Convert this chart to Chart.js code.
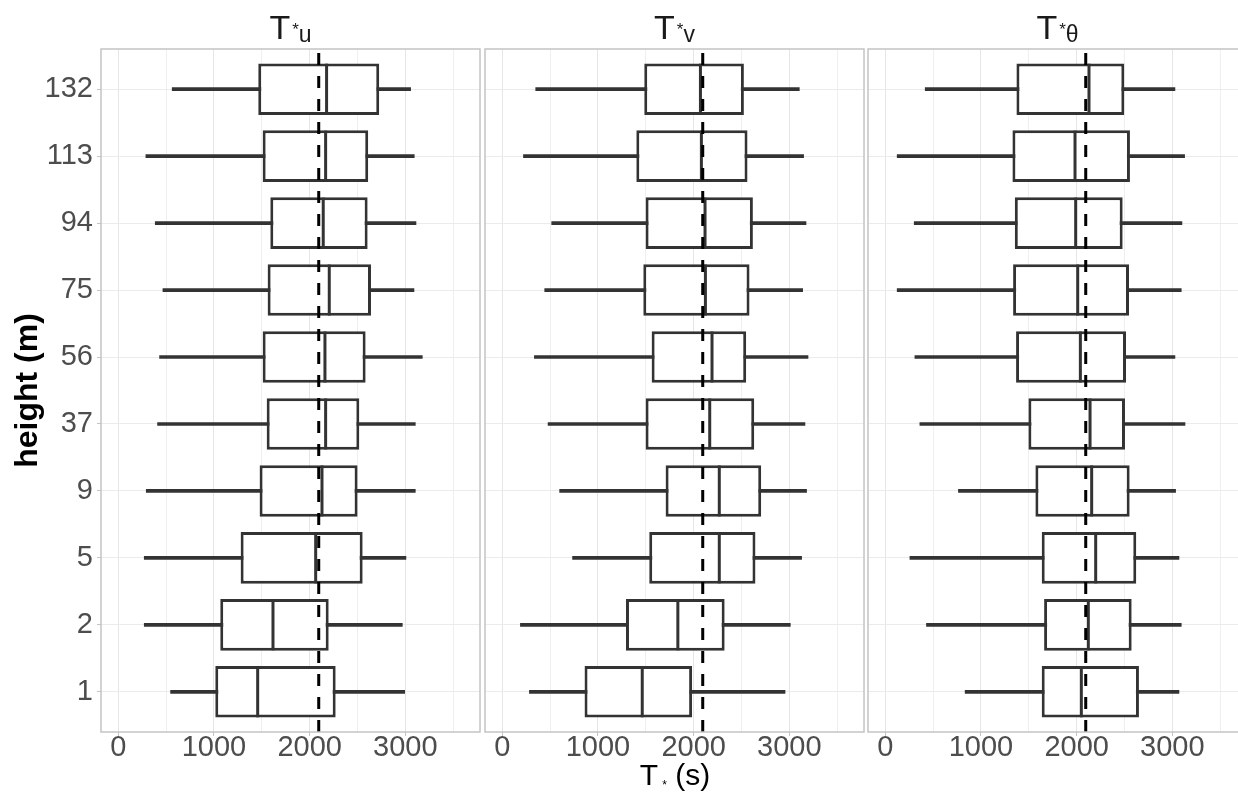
<!DOCTYPE html>
<html>
<head>
<meta charset="utf-8">
<script src="https://cdn.jsdelivr.net/npm/chart.js@4.4.1/dist/chart.umd.min.js"></script>
<style>
  html, body { margin: 0; padding: 0; background: #fff; overflow: hidden; }
  #wrap { position: relative; width: 1238px; height: 794px; overflow: hidden;
          font-family: "Liberation Sans", Arial, sans-serif; }
  canvas { position: absolute; top: 0; }
  .strip { position: absolute; top: 10px; width: 379px; text-align: center;
           font-size: 34px; line-height: 34px; color: #1a1a1a; white-space: nowrap; }
  .strip .ast { font-size: 17px; line-height: 0; position: relative; top: -4px; margin-left: 2px; }
  .strip .sub { font-size: 23px; line-height: 0; position: relative; top: 3px; }
  #xtitle { position: absolute; top: 760px; left: 475px; width: 400px; text-align: center;
            font-size: 30px; line-height: 30px; color: #000; white-space: nowrap; }
  #xtitle .ast { font-size: 12px; line-height: 0; position: relative; top: 4px; margin-left: 4px; }
</style>
</head>
<body>
<div id="wrap">
  <canvas id="panelU" width="481" height="794" style="left:0px"></canvas>
  <canvas id="panelV" width="381" height="794" style="left:484px"></canvas>
  <canvas id="panelT" width="381" height="794" style="left:867px"></canvas>
  <div class="strip" style="left:101px">T<span class="ast">*</span><span class="sub">u</span></div>
  <div class="strip" style="left:485px">T<span class="ast">*</span><span class="sub">v</span></div>
  <div class="strip" style="left:868px">T<span class="ast">*</span><span class="sub">θ</span></div>
  <div id="xtitle">T<span class="ast">*</span> (s)</div>
</div>
<script>
// heights, bottom to top
const heights = ["1", "2", "5", "9", "37", "56", "75", "94", "113", "132"];
const xGridValues = [0, 500, 1000, 1500, 2000, 2500, 3000, 3500];
const xTickLabels = [0, 1000, 2000, 3000];
const refValue = 2095;

// T*u
const tuMin = [547, 272, 272, 293, 411, 432, 467, 387, 289, 564];
const tuQ1  = [1014, 1066, 1279, 1477, 1551, 1509, 1561, 1589, 1509, 1463];
const tuMed = [1457, 1617, 2063, 2129, 2167, 2160, 2205, 2142, 2167, 2177];
const tuQ3  = [2272, 2199, 2554, 2501, 2519, 2585, 2641, 2606, 2612, 2727];
const tuMax = [2993, 2968, 3006, 3104, 3104, 3177, 3090, 3111, 3093, 3055];

// T*v
const tvMin = [284, 190, 735, 600, 479, 336, 444, 517, 222, 350];
const tvQ1  = [860, 1293, 1536, 1707, 1498, 1561, 1474, 1498, 1401, 1484];
const tvMed = [1463, 1835, 2268, 2268, 2168, 2192, 2123, 2119, 2081, 2071];
const tvQ3  = [1984, 2324, 2646, 2706, 2633, 2549, 2584, 2619, 2563, 2525];
const tvMax = [2955, 3010, 3128, 3180, 3163, 3195, 3139, 3174, 3149, 3104];

// T*theta
const ttMin = [835, 431, 258, 765, 362, 310, 125, 303, 125, 418];
const ttQ1  = [1635, 1660, 1635, 1569, 1496, 1367, 1336, 1354, 1329, 1371];
const ttMed = [2049, 2122, 2199, 2157, 2140, 2039, 2011, 1990, 1983, 2129];
const ttQ3  = [2651, 2575, 2623, 2554, 2505, 2516, 2547, 2481, 2557, 2498];
const ttMax = [3069, 3093, 3069, 3034, 3132, 3027, 3093, 3100, 3128, 3027];

const FONT = '"Liberation Sans", Arial, sans-serif';
const INK = "#333333";
const Y_LO = 0.4, Y_HI = 10.6;

const panelBorder = {
  id: "panelBorder",
  afterDraw(chart) {
    const { ctx, chartArea: a } = chart;
    ctx.save();
    ctx.strokeStyle = "#c4c4c4";
    ctx.lineWidth = 1.5;
    ctx.strokeRect(a.left, a.top, a.right - a.left, a.bottom - a.top);
    ctx.restore();
  },
};

function buildPanel(canvasId, mins, q1s, meds, q3s, maxs, showY) {
  const pos = heights.map((h, i) => i + 1);
  const whiskers = pos.map((p, i) => ({ y: p, x: [mins[i], maxs[i]] }));
  const boxes = pos.map((p, i) => ({ y: p, x: [q1s[i], q3s[i]] }));
  const medians = pos.map((p, i) => ({ y: p, x: meds[i] }));

  return new Chart(document.getElementById(canvasId), {
    type: "bar",
    data: {
      datasets: [
        {
          type: "line",
          data: [{ x: refValue, y: Y_LO }, { x: refValue, y: Y_HI }],
          borderColor: "#000",
          borderWidth: 3,
          borderDash: [12, 11],
          pointRadius: 0,
          fill: false,
          order: 0,
        },
        {
          type: "line",
          data: medians,
          showLine: false,
          pointStyle: "line",
          pointRotation: 90,
          pointRadius: 25.5,
          pointBorderWidth: 3,
          pointBorderColor: INK,
          order: 1,
        },
        {
          data: boxes,
          backgroundColor: "#ffffff",
          borderColor: INK,
          borderWidth: 3,
          borderSkipped: false,
          grouped: false,
          categoryPercentage: 1,
          barPercentage: 0.77,
          order: 2,
        },
        {
          data: whiskers,
          backgroundColor: INK,
          borderWidth: 0,
          grouped: false,
          barThickness: 3,
          order: 3,
        },
      ],
    },
    options: {
      indexAxis: "y",
      responsive: false,
      animation: false,
      events: [],
      layout: { autoPadding: false, padding: { top: 49, right: 1, bottom: 0, left: showY ? 0 : 1 } },
      plugins: { legend: { display: false }, tooltip: { enabled: false } },
      scales: {
        x: {
          type: "linear",
          min: -180,
          max: 3780,
          border: { display: false },
          grid: {
            color: (c) => (c.tick && c.tick.value % 1000 === 0 ? "#e6e6e6" : "#efefef"),
            tickColor: (c) => (c.tick && c.tick.value % 1000 === 0 ? "#c4c4c4" : "rgba(0,0,0,0)"),
            tickLength: 4,
            lineWidth: 1,
          },
          afterBuildTicks: (scale) => { scale.ticks = xGridValues.map((v) => ({ value: v })); },
          ticks: {
            autoSkip: false,
            maxRotation: 0,
            minRotation: 0,
            padding: -3,
            color: "#4d4d4d",
            font: { family: FONT, size: 29, lineHeight: 1 },
            callback: (v) => (xTickLabels.includes(v) ? String(v) : ""),
          },
          afterFit: (scale) => { scale.height = 62; },
        },
        y: {
          type: "linear",
          min: Y_LO,
          max: Y_HI,
          offset: false,
          border: { display: false },
          grid: {
            offset: false,
            color: "#ebebeb",
            lineWidth: 1,
            drawTicks: showY,
            tickColor: "#c4c4c4",
            tickLength: 4,
          },
          afterBuildTicks: (scale) => { scale.ticks = heights.map((h, i) => ({ value: i + 1 })); },
          ticks: {
            display: showY,
            autoSkip: false,
            padding: 4,
            color: "#4d4d4d",
            font: { family: FONT, size: 29 },
            callback: (v) => heights[v - 1] || "",
          },
          title: {
            display: showY,
            text: "height (m)",
            color: "#000",
            font: { family: FONT, size: 32, weight: "bold" },
            padding: { top: 9, bottom: 0 },
          },
          afterFit: (scale) => { scale.width = showY ? 101 : 0; },
        },
      },
    },
    plugins: [panelBorder],
  });
}

buildPanel("panelU", tuMin, tuQ1, tuMed, tuQ3, tuMax, true);
buildPanel("panelV", tvMin, tvQ1, tvMed, tvQ3, tvMax, false);
buildPanel("panelT", ttMin, ttQ1, ttMed, ttQ3, ttMax, false);
</script>
</body>
</html>
